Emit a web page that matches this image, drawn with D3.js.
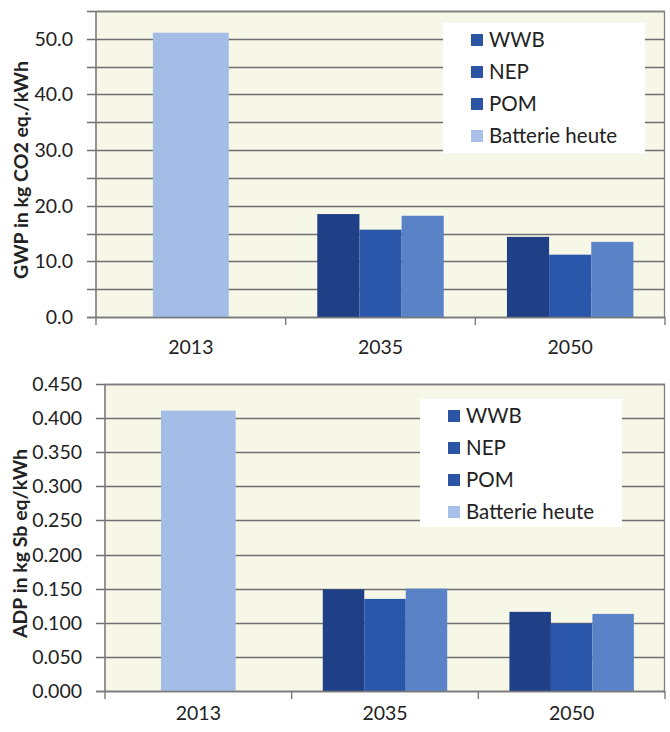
<!DOCTYPE html>
<html>
<head>
<meta charset="utf-8">
<script src="https://cdn.jsdelivr.net/npm/d3@7"></script>
<style>
  body { margin: 0; background: #fff; }
  svg { display: block; }
  text { font-family: Lato, "Open Sans", sans-serif; fill: #222; }
</style>
</head>
<body>
<svg id="chart" width="670" height="732"></svg>
<script>
// Categories and series
const categories = ["2013", "2035", "2050"];
const seriesNames = ["WWB", "NEP", "POM", "Batterie heute"];

// GWP in kg CO2 eq./kWh
const gwpWWB = [null, 18.5, 14.4];
const gwpNEP = [null, 15.7, 11.2];
const gwpPOM = [null, 18.2, 13.5];
const gwpBatterie = [51.1, null, null];
const gwpTickValues = [0, 10, 20, 30, 40, 50];
const gwpTickLabels = ["0.0", "10.0", "20.0", "30.0", "40.0", "50.0"];

// ADP in kg Sb eq/kWh
const adpWWB = [null, 0.149, 0.116];
const adpNEP = [null, 0.135, 0.099];
const adpPOM = [null, 0.150, 0.113];
const adpBatterie = [0.411, null, null];
const adpTickValues = [0, 0.05, 0.10, 0.15, 0.20, 0.25, 0.30, 0.35, 0.40, 0.45];
const adpTickLabels = ["0.000", "0.050", "0.100", "0.150", "0.200", "0.250", "0.300", "0.350", "0.400", "0.450"];

// Colours
const barColors = ["#1f3f86", "#2a57aa", "#5a83c7", "#a3bde6"];
const swatchColors = ["#2c54a4", "#2c54a4", "#2c54a4", "#a9c0e8"];

const svg = d3.select("#chart");

const panels = [
  {
    series: [gwpWWB, gwpNEP, gwpPOM, gwpBatterie],
    yMax: 55, gridCount: 11,
    tickValues: gwpTickValues, tickLabels: gwpTickLabels,
    title: "GWP in kg CO2 eq./kWh",
    left: 96, top: 11, right: 665, bottom: 317,
    titleX: 21, xLabelY: 347,
    legend: { x: 443, y: 23, w: 202, h: 130, swatchX: 471, textX: 489, firstY: 40, step: 32 }
  },
  {
    series: [adpWWB, adpNEP, adpPOM, adpBatterie],
    yMax: 0.45, gridCount: 9,
    tickValues: adpTickValues, tickLabels: adpTickLabels,
    title: "ADP in kg Sb eq/kWh",
    left: 105, top: 384, right: 665, bottom: 691,
    titleX: 20, xLabelY: 713,
    legend: { x: 420, y: 399, w: 202, h: 128, swatchX: 448, textX: 466, firstY: 416, step: 32 }
  }
];

panels.forEach(p => {
  const g = svg.append("g");
  const x = d3.scaleBand().domain(categories).range([p.left, p.right]).padding(0);
  const y = d3.scaleLinear().domain([0, p.yMax]).range([p.bottom, p.top]);

  // plot background
  g.append("rect")
    .attr("x", p.left).attr("y", p.top)
    .attr("width", p.right - p.left).attr("height", p.bottom - p.top)
    .attr("fill", "#f7f7e8");

  // horizontal gridlines with short ticks to the left
  const grid = y.ticks(p.gridCount);
  g.selectAll(".grid").data(grid).join("line")
    .attr("x1", p.left - 9).attr("x2", p.right)
    .attr("y1", d => Math.round(y(d)) + 0.5).attr("y2", d => Math.round(y(d)) + 0.5)
    .attr("stroke", "#6e6e6e").attr("stroke-width", 1.3);

  // plot frame on top and right
  g.append("path")
    .attr("d", `M${p.left},${p.top + 0.5}H${p.right - 0.5}V${p.bottom}`)
    .attr("fill", "none").attr("stroke", "#808080").attr("stroke-width", 1.3);

  // tick labels
  g.selectAll(".ylab").data(p.tickValues).join("text")
    .attr("x", p.left - 23).attr("y", d => y(d))
    .attr("dy", "0.36em").attr("text-anchor", "end")
    .attr("font-size", 19.5)
    .text((d, i) => p.tickLabels[i]);

  // bars
  categories.forEach((cat, ci) => {
    const present = seriesNames.filter((s, si) => p.series[si][ci] != null);
    const inner = d3.scaleBand().domain(present)
      .range([x(cat), x(cat) + x.bandwidth()])
      .paddingInner(0).paddingOuter(0.75);
    present.forEach(s => {
      const si = seriesNames.indexOf(s);
      const v = p.series[si][ci];
      g.append("rect")
        .attr("x", inner(s)).attr("width", inner.bandwidth())
        .attr("y", y(v)).attr("height", y(0) - y(v))
        .attr("fill", barColors[si]);
    });
  });

  // axes lines
  g.append("line")
    .attr("x1", p.left).attr("x2", p.left)
    .attr("y1", p.top).attr("y2", p.bottom + 1)
    .attr("stroke", "#7a7a7a").attr("stroke-width", 1.6);
  g.append("line")
    .attr("x1", p.left - 9).attr("x2", p.right)
    .attr("y1", p.bottom + 0.5).attr("y2", p.bottom + 0.5)
    .attr("stroke", "#7a7a7a").attr("stroke-width", 1.6);

  // category separators on the x axis
  const seps = categories.map(c => x(c)).concat([p.right]);
  g.selectAll(".xsep").data(seps).join("line")
    .attr("x1", d => d).attr("x2", d => d)
    .attr("y1", p.bottom).attr("y2", p.bottom + 8)
    .attr("stroke", "#7a7a7a").attr("stroke-width", 1.4);

  // category labels
  g.selectAll(".xlab").data(categories).join("text")
    .attr("x", d => x(d) + x.bandwidth() / 2).attr("y", p.xLabelY)
    .attr("dy", "0.36em").attr("text-anchor", "middle")
    .attr("font-size", 19.5)
    .text(d => d);

  // y axis title
  g.append("text")
    .attr("transform", `translate(${p.titleX},${(p.top + p.bottom) / 2 + 6}) rotate(-90)`)
    .attr("dy", "0.36em").attr("text-anchor", "middle")
    .attr("font-size", 19.5).attr("font-weight", "bold")
    .text(p.title);

  // legend
  const L = p.legend;
  g.append("rect")
    .attr("x", L.x).attr("y", L.y).attr("width", L.w).attr("height", L.h)
    .attr("fill", "#ffffff");
  seriesNames.forEach((s, i) => {
    const cy = L.firstY + i * L.step;
    g.append("rect")
      .attr("x", L.swatchX).attr("y", cy - 6).attr("width", 12).attr("height", 12)
      .attr("fill", swatchColors[i]);
    g.append("text")
      .attr("x", L.textX).attr("y", cy)
      .attr("dy", "0.36em").attr("font-size", 20.5)
      .text(s);
  });
});
</script>
</body>
</html>
